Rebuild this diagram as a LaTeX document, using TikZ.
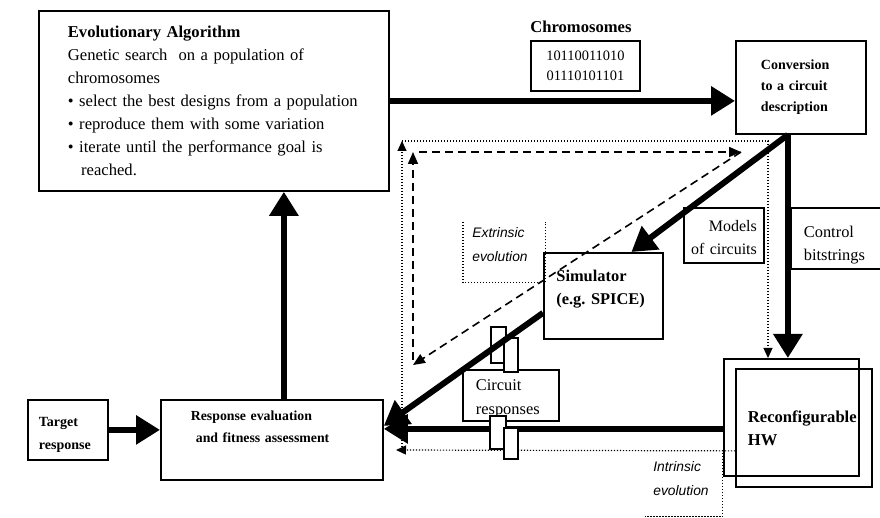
\documentclass[tikz,border=0pt]{standalone}
\usepackage{fontspec}
\setmainfont{Liberation Serif}
\newfontfamily\evofont{Liberation Sans}
\usepackage{tikz}
\usetikzlibrary{positioning, arrows.meta, calc}

\begin{document}
\begin{tikzpicture}[x=0.5pt, y=-0.5pt,
  block/.style={draw, line width=0.9pt, fill=white, inner sep=0pt, anchor=north west},
  plug/.style={draw, line width=0.8pt, fill=white, inner sep=0pt, anchor=north west},
  evo/.style={inner sep=0pt, anchor=north west, align=left,
    font=\evofont\itshape\fontsize{6.9}{12}\selectfont},
  flow/.style={line width=3pt, -{Triangle[length=12pt, width=14pt]}},
  extrinsic/.style={line width=0.8pt, dash pattern=on 4pt off 2.5pt,
    -{Triangle[length=6pt, width=5pt]}},
  intrinsic/.style={line width=0.6pt, dash pattern=on 0.6pt off 0.9pt},
  itip/.style={-{Triangle[length=5pt, width=4.5pt]}}]
\useasboundingbox (0,0) rectangle (880,518);
\clip (0,0) rectangle (880,518);

\node[block, minimum width=175pt, minimum height=90pt, text width=146pt, align=left,
  font=\fontsize{8.3}{11.5}\selectfont] (ea) at (38,10)
  {\textbf{Evolutionary Algorithm}\\Genetic search\ \ on a population of\\chromosomes\\
   \textbullet\ select the best designs from a population\\
   \textbullet\ reproduce them with some variation\\
   \textbullet\ iterate until the performance goal is\\\hspace*{0.8em}reached.};
\node[block, minimum width=54.5pt, minimum height=25pt, align=center,
  font=\fontsize{7.2}{10}\selectfont] (chrom) at (530,40) {10110011010\\01110101101};
\node[above right=3.5pt and 0pt of chrom.north west, inner sep=0pt,
  font=\bfseries\fontsize{8.3}{10}\selectfont] (chromtitle) {Chromosomes};
\node[block, minimum width=65pt, minimum height=46.5pt, text width=40pt, align=left,
  font=\bfseries\fontsize{7}{10.5}\selectfont] (conv) at (735,40)
  {Conversion\\to a circuit\\description};
\node[block, minimum width=40pt, minimum height=27.5pt, text width=33pt, text depth=9.5pt,
  align=right, font=\fontsize{8}{11.5}\selectfont] (models) at (683,207) {Models\\of circuits};
\node[block, minimum width=60pt, minimum height=30.5pt, text width=47pt, text depth=6.5pt,
  align=left, font=\fontsize{8.2}{11.5}\selectfont] (ctrl) at (790,207) {Control\\bitstrings};
\node[block, minimum width=59.5pt, minimum height=43pt, text width=47pt, text depth=20.5pt,
  align=left, font=\bfseries\fontsize{8.2}{11.5}\selectfont] (sim) at (543,252)
  {Simulator\\(e.g.\ SPICE)};
\node[block, minimum width=48pt, minimum height=25.5pt, text width=35pt, text depth=10pt,
  align=left, font=\fontsize{8.2}{12}\selectfont] (circresp) at (462,369) {Circuit\\responses};
\node[block, fill=none, minimum width=67.5pt, minimum height=58.5pt] (hwback) at (723,358) {};
\node[block, fill=none, below right=5pt and 6pt of hwback.north west, minimum width=68pt,
  minimum height=59pt, text width=56pt, align=left,
  font=\bfseries\fontsize{8.3}{11.5}\selectfont] (hw) {Reconfigurable\\HW};
\node[block, minimum width=111pt, minimum height=40pt, text width=81pt, text depth=24.5pt,
  align=left, font=\bfseries\fontsize{6.9}{11}\selectfont] (resp) at (160,399)
  {Response evaluation\\\hspace*{2.5pt}and fitness assessment};
\node[block, minimum width=40pt, minimum height=30pt, text width=29pt, text depth=7.5pt,
  align=left, font=\bfseries\fontsize{7}{11.5}\selectfont] (target) at (27,399) {Target\\response};
\node[evo, minimum width=41pt, minimum height=30pt, text width=32pt, text depth=20pt]
  (ext) at (463,222) {Extrinsic\\evolution};
\node[evo, minimum width=38.5pt, minimum height=33pt, text width=30.5pt, text depth=17pt]
  (int) at (645,450) {Intrinsic\\evolution};

% evolution loops
\coordinate (xlow) at (413,360);
\coordinate (xtop) at (413,152);
\coordinate (xend) at (741,152);
\coordinate (ilow) at (402,450);
\coordinate (itop) at (402,141);
\coordinate (iturn) at (768,141);
\coordinate (iret) at (396,450);
\draw[intrinsic] (ext.north west) |- (ext.south east) -- (ext.north east);
\draw[intrinsic] (int.north east) -- (int.south east) -- (int.south west);
\draw[intrinsic, itip] (ilow) -- (itop);
\draw[intrinsic, itip] (itop) -- (iturn) -- (iturn |- hwback.north);
\draw[intrinsic, itip] ([yshift=-11.5pt]hw.west) -- (iret);
\draw[extrinsic] (xlow) -- (xtop);
\draw[extrinsic] ([xshift=3pt]xtop) -- (xend);
\draw[extrinsic] (xend) -- ([yshift=-2.5pt]xlow);

% main flow
\draw[flow] (ea) -- (ea -| conv.west);
\draw[flow] ([xshift=6pt]resp.north) -- ([xshift=6pt]resp.north |- ea.south);
\draw[flow] (target) -- (target -| resp.west);
\draw[flow] ([xshift=-6.5pt]conv.south) -- ([xshift=-6.5pt]conv.south |- hwback.north);
\draw[flow] ([xshift=-6.5pt]conv.south) -- ([xshift=14pt]sim.north);
\node[plug, minimum width=7.5pt, minimum height=18pt] (pluga) at (490,326) {};
\node[plug, minimum width=7pt, minimum height=17pt,
  below right=5.5pt and 6.5pt of pluga.north west] (plugb) {};
\draw[flow] ([yshift=-8.5pt]sim.west) -- ([yshift=7pt]resp.east);
\draw[flow] ([yshift=-5.75pt]hwback.west) -- ([yshift=-5.75pt]hwback.west -| resp.east);
\node[plug, minimum width=8pt, minimum height=16.5pt] (plugc) at (489,415) {};
\node[plug, minimum width=7pt, minimum height=15.5pt,
  below right=6pt and 7pt of plugc.north west] (plugd) {};
\end{tikzpicture}
\end{document}
